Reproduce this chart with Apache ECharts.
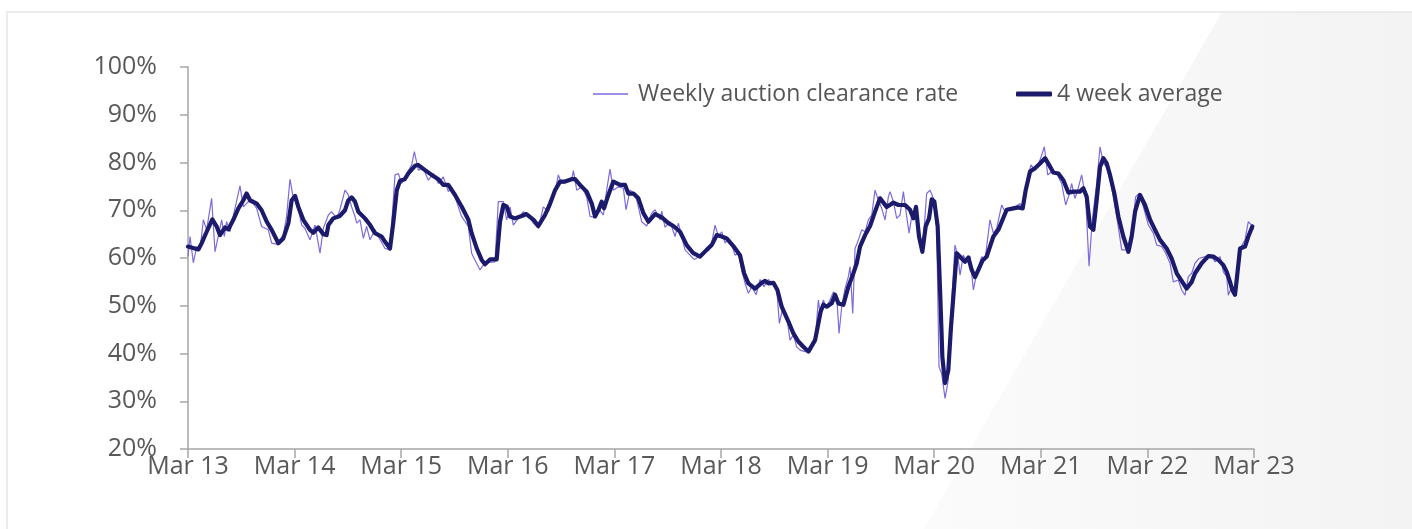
<!DOCTYPE html>
<html>
<head>
<meta charset="utf-8">
<script src="https://cdn.jsdelivr.net/npm/echarts@6/dist/echarts.min.js"></script>
<style>
html,body{margin:0;padding:0;background:#fff;}
#chart{width:1412px;height:529px;}
</style>
</head>
<body>
<div id="chart"></div>
<script>
// x positions are months since March 2013
var xTickLabels = ['Mar 13','Mar 14','Mar 15','Mar 16','Mar 17','Mar 18','Mar 19','Mar 20','Mar 21','Mar 22','Mar 23'];
var seriesNames = ['Weekly auction clearance rate', '4 week average'];

// Weekly auction clearance rate (%)
var weeklyMonth = [0,0.23,0.6,0.98,1.35,1.73,2.1,2.66,3.04,3.79,4.09,4.35,4.73,5.29,5.85,6.23,6.79,7.35,7.73,8.29,9.04,9.42,9.98,10.73,11.1,11.48,11.86,12.23,12.8,13.17,13.73,14.3,14.86,15.23,15.8,16.17,16.74,17.1,17.67,18.05,18.42,18.8,18.99,19.36,19.74,20.11,20.49,21.05,21.43,22.18,22.74,23.3,23.68,24.05,24.62,25.18,25.48,25.93,26.49,27.05,27.62,28.18,28.74,29.3,29.68,30.43,30.8,31.56,31.93,32.3,32.87,33.43,34.56,34.93,35.5,35.87,36.25,36.62,37.18,37.75,38.31,38.87,39.44,
40.0,40.57,41.13,41.5,41.69,42.07,42.63,43.19,43.38,43.76,44.32,44.88,45.26,45.82,46.2,46.76,47.13,47.51,47.88,48.45,49.01,49.31,49.76,50.32,50.7,51.07,51.64,52.2,52.58,53.14,53.33,53.7,54.26,54.83,55.2,55.58,55.95,56.52,56.97,57.64,58.39,58.95,59.33,59.7,60.08,60.46,60.83,61.21,61.58,61.96,62.33,62.71,63.08,63.46,63.95,64.4,64.85,65.33,65.9,66.27,66.57,66.95,67.4,67.77,68.15,68.52,68.9,69.46,70.02,70.59,70.96,71.15,71.52,71.82,72.2,72.65,73.03,73.29,73.59,73.96,74.34,74.53,74.83,75.09,75.47,75.84,76.22,76.59,76.97,77.34,77.72,78.09,78.47,78.84,79.03,79.41,79.78,
80.15,80.53,80.9,81.17,81.47,81.84,82.14,82.4,82.67,83.15,83.53,83.9,84.28,84.54,84.84,85.22,85.59,85.97,86.34,86.64,86.91,87.28,87.66,88.03,88.41,88.78,89.35,89.72,90.28,90.66,91.03,91.6,91.97,92.54,93.1,93.66,94.04,94.41,94.9,95.35,95.91,96.4,96.78,97.23,97.79,98.35,98.8,99.18,99.48,99.85,100.15,100.6,101.05,101.43,101.8,102.29,102.67,103.04,103.6,104.17,104.66,105.11,105.86,106.31,106.68,107.06,107.55,108.11,108.67,109.05,109.61,110.06,110.55,110.92,111.48,111.86,112.23,112.61,112.99,113.36,113.81,114.49,115.16,115.61,116.18,116.55,116.93,117.11,117.49,117.79,118.05,118.43,118.99,119.36,119.74,119.93];
var weeklyRate = [60.3,64.5,59.0,62.4,61.7,68.0,65.9,72.5,61.3,68.0,64.5,67.6,65.5,70.4,75.1,70.7,71.8,71.4,70.4,66.6,65.9,63.1,62.9,64.8,68.7,76.5,72.5,71.8,66.9,66.2,63.8,66.9,61.0,66.2,69.0,69.7,68.3,70.1,74.2,73.2,70.7,68.7,67.3,68.0,64.1,66.6,63.8,65.9,64.5,62.0,61.7,77.4,77.7,75.6,77.7,79.5,82.3,78.4,78.8,76.3,77.7,75.6,77.0,73.9,74.9,70.7,68.7,66.6,61.0,59.6,57.5,59.0,59.2,71.8,71.8,68.0,70.7,66.9,68.3,69.7,69.0,67.3,66.2,
70.7,69.7,72.5,75.6,77.4,75.6,76.0,76.3,78.3,74.2,74.9,72.8,68.7,68.5,70.4,69.0,74.2,78.6,74.2,74.9,74.6,70.1,74.2,73.5,70.7,67.6,66.7,69.4,70.1,68.0,69.8,66.4,67.6,64.5,67.3,64.5,61.7,60.6,59.7,60.3,61.7,63.1,66.9,64.5,65.5,63.1,64.1,62.7,60.6,61.0,57.5,54.7,52.6,54.0,52.3,55.5,54.0,55.5,54.3,53.6,46.3,49.5,47.7,42.8,43.9,41.4,40.7,40.4,40.4,42.5,51.2,48.4,51.2,49.8,50.9,52.9,51.9,44.2,49.8,53.6,56.1,58.2,48.4,62.0,63.8,65.9,65.5,68.0,69.0,74.2,72.1,70.4,68.0,72.8,73.9,71.8,68.3,
69.0,73.9,68.7,65.2,68.7,70.1,67.3,63.8,61.0,73.5,74.2,72.5,66.6,37.2,35.8,30.6,34.5,50.5,62.7,60.6,56.4,60.6,59.2,60.3,53.3,56.8,60.3,59.6,68.0,65.2,66.2,71.1,69.7,70.4,70.7,71.4,70.1,76.3,79.5,78.4,80.5,83.3,77.4,78.1,77.7,75.6,71.1,73.2,75.6,72.5,74.2,77.4,72.5,58.3,68.0,75.6,83.3,79.8,78.8,72.8,67.3,61.7,61.7,66.6,72.8,73.5,70.7,66.9,65.2,62.7,62.4,61.0,58.9,55.0,55.4,53.3,52.2,56.1,56.8,58.9,59.9,60.3,60.6,59.2,60.3,57.1,56.1,52.2,54.0,52.2,55.4,62.0,63.8,67.6,66.9,65.9];

// 4 week average (%)
var avgMonth = [0,1.16,1.54,2.1,2.74,3.23,3.6,4.17,4.54,5.1,5.67,6.23,6.6,6.98,7.73,8.29,8.86,9.42,10.17,10.73,11.3,11.67,12.05,12.42,12.98,13.73,14.1,14.67,15.23,15.6,15.8,16.36,17.1,17.67,18.05,18.42,18.8,19.17,19.92,20.5,21.05,21.8,22.18,22.74,23.1,23.5,23.87,24.4,24.8,25.55,25.9,26.68,27.43,28.18,28.74,29.3,30.06,30.8,31.56,31.93,32.5,33.06,33.43,34.0,34.75,35.12,35.5,35.87,36.25,36.8,37.56,38.1,38.9,39.44,
40.19,40.76,41.32,41.88,42.44,43.19,43.57,44.13,44.88,45.45,45.82,46.2,46.57,46.83,47.32,47.88,48.64,49.2,49.57,50.14,50.7,51.26,51.83,52.58,53.33,54.08,54.64,55.39,56.14,56.89,57.64,58.39,58.95,59.52,60.08,60.64,61.39,62.14,62.6,63.08,63.83,64.58,64.96,65.33,65.9,66.35,66.83,67.59,68.15,68.71,69.27,69.84,70.59,70.96,71.22,71.52,71.9,72.46,72.84,73.21,73.78,74.34,74.9,75.28,75.65,76.22,76.78,77.34,77.9,78.65,79.41,79.97,
80.15,80.72,81.28,81.65,81.95,82.29,82.67,83.04,83.42,83.72,84.02,84.39,84.66,84.92,85.22,85.59,85.89,86.27,86.53,87.09,87.47,87.85,88.22,88.6,88.97,89.42,89.91,90.28,90.66,91.22,91.6,92.16,92.91,93.47,93.96,94.3,94.79,95.35,95.91,96.48,96.93,97.41,97.98,98.54,99.1,99.66,100.4,100.79,101.17,101.54,101.92,102.29,102.67,103.04,103.42,103.79,104.28,104.73,105.29,105.86,106.23,106.61,107.17,107.73,108.3,108.86,109.42,110.17,110.73,111.3,111.78,112.42,112.99,113.36,114.11,114.86,115.42,115.99,116.55,116.93,117.3,117.56,117.86,118.05,118.43,118.99,119.36,119.81];
var avgRate = [62.4,61.8,63.1,65.5,68.1,66.6,64.8,66.4,66.0,68.0,70.4,72.1,73.5,72.1,71.4,70.0,67.6,65.9,63.1,64.1,67.3,72.1,73.0,70.7,68.0,65.9,65.3,66.4,65.0,64.8,66.9,68.3,68.8,70.0,72.1,72.7,71.8,69.7,68.3,66.9,65.2,64.5,63.4,62.0,67.3,74.2,76.2,76.5,77.7,79.3,79.5,78.4,77.4,76.5,75.3,75.3,73.2,70.8,68.0,65.2,62.0,59.6,58.7,59.7,59.7,67.6,71.1,70.8,68.7,68.3,68.8,69.2,68.0,66.7,
69.0,71.4,74.2,76.0,76.0,76.5,76.5,75.3,73.9,71.4,68.7,70.0,71.8,70.4,73.2,76.0,75.3,75.3,73.5,73.5,72.5,69.4,67.6,69.2,68.5,67.3,66.7,65.5,62.7,61.0,60.3,61.7,62.7,64.8,64.5,64.1,62.5,60.6,56.8,54.7,53.6,54.8,55.2,54.7,54.8,53.3,49.8,46.7,44.2,42.5,41.4,40.4,42.8,46.3,48.8,50.2,49.8,50.5,52.3,50.5,50.2,54.0,56.8,58.9,62.4,64.8,66.7,69.7,72.5,70.7,71.6,71.1,
70.7,71.1,70.1,68.3,70.7,64.5,61.3,66.6,68.3,72.3,71.8,66.6,53.3,39.3,33.8,36.5,45.6,54.7,61.0,59.9,59.2,60.1,57.5,56.0,57.5,59.4,60.3,62.4,64.5,65.9,67.6,70.1,70.4,70.6,70.4,74.2,78.1,78.8,79.8,80.9,79.5,77.9,77.7,76.3,73.7,73.9,73.9,74.6,72.8,66.6,65.9,72.1,79.1,80.9,79.8,77.4,73.5,68.7,64.5,61.3,64.5,69.7,73.2,71.1,68.0,65.9,63.8,62.0,59.9,56.8,55.4,53.6,55.0,56.8,58.9,60.4,60.3,59.6,58.5,57.1,55.0,53.3,52.3,55.4,62.0,62.4,64.5,66.6];

function zip(xs, ys) {
  var out = [];
  for (var i = 0; i < xs.length && i < ys.length; i++) out.push([xs[i], ys[i]]);
  return out;
}

var FONT = "'Open Sans', sans-serif";
var chart = echarts.init(document.getElementById('chart'), null, {renderer: 'canvas'});
chart.setOption({
  animation: false,
  backgroundColor: '#ffffff',
  graphic: [
    {
      type: 'polygon', z: 0, silent: true,
      shape: {points: [[1222, 12], [1412, 12], [1412, 529], [924, 529]]},
      style: {
        fill: new echarts.graphic.LinearGradient(0, 0, 1, 0, [
          {offset: 0, color: '#fbfbfb'}, {offset: 1, color: '#f3f3f3'}
        ])
      }
    },
    {
      type: 'rect', z: 0, silent: true,
      shape: {x: 7, y: 12, width: 1420, height: 530},
      style: {fill: 'none', stroke: '#ececec', lineWidth: 2}
    }
  ],
  legend: [
    {
      data: [seriesNames[0]],
      left: 593, top: 82, padding: 0,
      icon: 'rect', itemWidth: 35, itemHeight: 1.5,
      textStyle: {fontFamily: FONT, fontSize: 23, color: '#555555', lineHeight: 24, padding: [0, 0, 0, 5]}
    },
    {
      data: [seriesNames[1]],
      left: 1016, top: 82, padding: 0,
      icon: 'roundRect', itemWidth: 36, itemHeight: 5,
      textStyle: {fontFamily: FONT, fontSize: 23, color: '#555555', lineHeight: 24}
    }
  ],
  grid: {left: 188, right: 158, top: 67, bottom: 80, containLabel: false},
  xAxis: {
    type: 'value', min: 0, max: 120, interval: 12,
    axisLine: {show: true, lineStyle: {color: '#a6a6a6', width: 1.5}},
    axisTick: {show: true, length: 9, lineStyle: {color: '#a6a6a6', width: 1.5}},
    splitLine: {show: false},
    axisLabel: {
      margin: 5, fontFamily: FONT, fontSize: 25, color: '#595959',
      formatter: function (v) { return xTickLabels[Math.round(v / 12)] || ''; }
    }
  },
  yAxis: {
    type: 'value', min: 20, max: 100, interval: 10,
    axisLine: {show: true, lineStyle: {color: '#a6a6a6', width: 1.5}},
    axisTick: {show: true, length: 8, lineStyle: {color: '#a6a6a6', width: 1.5}},
    splitLine: {show: false},
    axisLabel: {margin: 31, fontFamily: FONT, fontSize: 25, color: '#595959', formatter: '{value}%'}
  },
  series: [
    {
      name: seriesNames[0], type: 'line', data: zip(weeklyMonth, weeklyRate),
      showSymbol: false, symbol: 'none', z: 2,
      color: '#7d6ade',
      lineStyle: {color: '#7d6ade', width: 1.2}
    },
    {
      name: seriesNames[1], type: 'line', data: zip(avgMonth, avgRate),
      showSymbol: false, symbol: 'none', z: 3,
      color: '#1b1a6b',
      lineStyle: {color: '#1b1a6b', width: 4.2, join: 'round', cap: 'round'}
    }
  ]
});
</script>
</body>
</html>
